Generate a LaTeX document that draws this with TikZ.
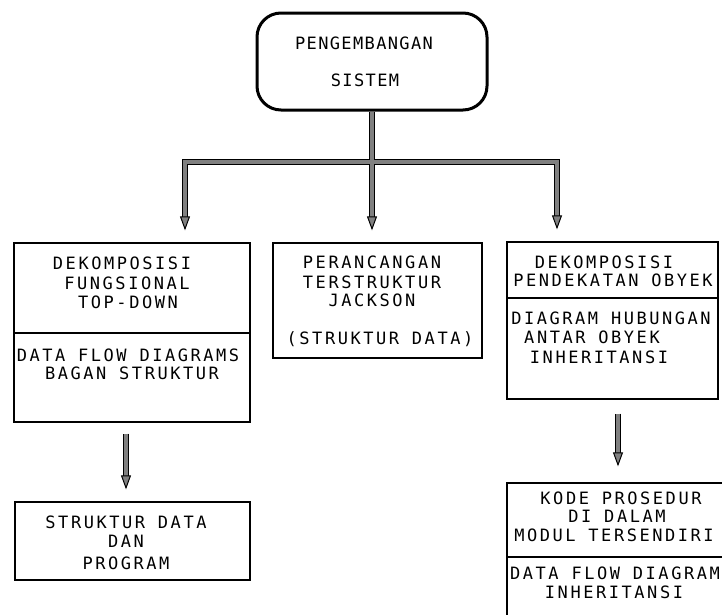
\documentclass[tikz,border=0pt]{standalone}
\usepackage{fontspec}
\newfontfamily\plotfont[LetterSpace=15]{DejaVu Sans Mono}
\newfontfamily\plotfonttop[LetterSpace=8]{DejaVu Sans Mono}
\usetikzlibrary{arrows.meta}
\tikzset{
  lbl/.style={font=\plotfont\fontsize{17}{20}\selectfont, inner sep=0pt, text height=12.5pt, text depth=0pt},
  lbltop/.style={lbl, font=\plotfonttop\fontsize{17}{20}\selectfont},
  box/.style={draw=black, line width=1.3pt, inner sep=0pt},
  topbox/.style={draw=black, line width=3pt, rounded corners=24pt, inner sep=0pt},
  divider/.style={draw=black, line width=1.3pt},
  pipeout/.style={draw=black, line width=6.5pt, line join=miter},
  pipein/.style={draw=black!50, line width=3.6pt, line join=miter},
}
\begin{document}
\begin{tikzpicture}[x=1pt, y=-1pt,
  >={Triangle[length=14pt,width=10pt,fill=black!50,color=black,line width=1pt]}]
\useasboundingbox (0,0) rectangle (722,614);
\clip (0,0) rectangle (722,614);

% boxes
\node[topbox, minimum width=230pt, minimum height=97pt] (top) at (372,61.5) {};
\node[box, minimum width=236pt, minimum height=179pt] (b1) at (132,332.5) {};
\node[box, minimum width=209pt, minimum height=115pt] (b2) at (377.5,300.5) {};
\node[box, minimum width=211pt, minimum height=157pt] (b3) at (612.5,320.5) {};
\node[box, minimum width=235pt, minimum height=78pt] (b4) at (132.5,541) {};
\node[box, minimum width=223pt, minimum height=147pt] (b5) at (618.5,556.5) {};

% dividers
\draw[divider] (b1.west |- 0,333) -- (b1.east |- 0,333);
\draw[divider] (b3.west |- 0,298) -- (b3.east |- 0,298);
\draw[divider] (b5.west |- 0,557) -- (b5.east |- 0,557);

% texts
\node[lbltop] (t0a) at (364,43) {PENGEMBANGAN};
\node[lbltop] (t0b) at (365,80) {SISTEM};

\node[lbl] (t1a) at (122,263) {DEKOMPOSISI};
\node[lbl] (t1b) at (127,283) {FUNGSIONAL};
\node[lbl] (t1c) at (128,302) {TOP-DOWN};
\node[lbl] (t1d) at (128,355) {DATA FLOW DIAGRAMS};
\node[lbl] (t1e) at (132,373) {BAGAN STRUKTUR};

\node[lbl] (t2a) at (372,262) {PERANCANGAN};
\node[lbl] (t2b) at (372,282) {TERSTRUKTUR};
\node[lbl] (t2c) at (372,300) {JACKSON};
\node[lbl] (t2d) at (380,338) {(STRUKTUR DATA)};

\node[lbl] (t3a) at (604,262) {DEKOMPOSISI};
\node[lbl] (t3b) at (613,280) {PENDEKATAN OBYEK};
\node[lbl] (t3c) at (611,318) {DIAGRAM HUBUNGAN};
\node[lbl] (t3d) at (592,337) {ANTAR OBYEK};
\node[lbl] (t3e) at (599,357) {INHERITANSI};

\node[lbl] (t4a) at (126,522) {STRUKTUR DATA};
\node[lbl] (t4b) at (126,541) {DAN};
\node[lbl] (t4c) at (126,563) {PROGRAM};

\node[lbl] (t5a) at (621,498) {KODE PROSEDUR};
\node[lbl] (t5b) at (617,516) {DI DALAM};
\node[lbl] (t5c) at (614,535) {MODUL TERSENDIRI};
\node[lbl] (t5d) at (615,573) {DATA FLOW DIAGRAM};
\node[lbl] (t5e) at (614,592) {INHERITANSI};

% connector coordinates
\coordinate (J) at (372,162);
\coordinate (L) at (185,162);
\coordinate (R) at (557,162);
\coordinate (dl) at (126,0);
\coordinate (dr) at (618,0);

% outline layer
\draw[pipeout, shorten <=24pt, shorten >=24pt] (L |- b1.north) -- (L) -- (R) -- (R |- b3.north);
\draw[pipeout, shorten >=24pt] (top.south) -- (J |- b2.north);
\draw[pipeout, shorten <=11pt, shorten >=24pt] (b1.south -| dl) -- (b4.north -| dl);
\draw[pipeout, shorten <=14pt, shorten >=28pt] (b3.south -| dr) -- (b5.north -| dr);

% fill layer
\draw[pipein, <->, shorten <=12pt, shorten >=12pt] (L |- b1.north) -- (L) -- (R) -- (R |- b3.north);
\draw[pipein, ->, shorten >=12pt] (top.south) -- (J |- b2.north);
\draw[pipein, ->, shorten <=11pt, shorten >=12pt] (b1.south -| dl) -- (b4.north -| dl);
\draw[pipein, ->, shorten <=14pt, shorten >=16pt] (b3.south -| dr) -- (b5.north -| dr);
\end{tikzpicture}
\end{document}
